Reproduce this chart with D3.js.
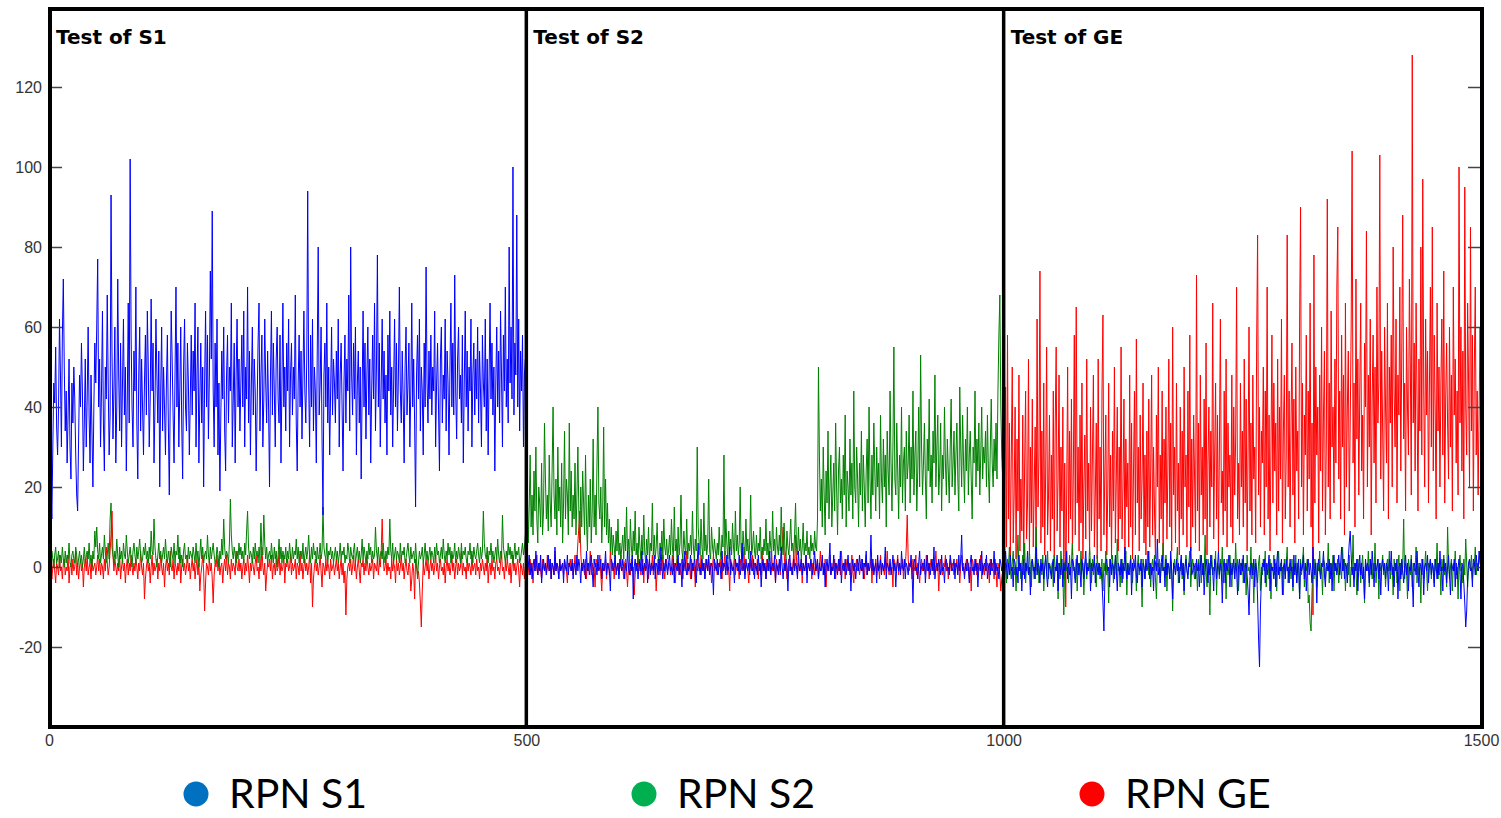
<!DOCTYPE html>
<html>
<head>
<meta charset="utf-8">
<script src="https://cdn.jsdelivr.net/npm/d3@7/dist/d3.min.js"></script>
<style>
  html, body { margin: 0; padding: 0; background: #ffffff; }
  svg { display: block; }
</style>
</head>
<body>
<svg id="chart" width="1501" height="818"></svg>
<script>
// Run index spans 0..1500; each series holds one sample per run step.
const xTicks = [0, 500, 1000, 1500];
const yTicks = [-20, 0, 20, 40, 60, 80, 100, 120];
const panelStarts = [0, 500, 1000];
const panelTitles = ["Test of S1", "Test of S2", "Test of GE"];
const legendLabels = ["RPN S1", "RPN S2", "RPN GE"];

const rpnS1 = [
  44,38,20,12,30,46,41,55,35,28,40,62,48,30,58,72,50,34,44,26,38,52,30,22,46,36,50,42,28,18,14,32,48,40,56,44,24,36,52,30,42,60,38,26,48,34,20,40,56,46,
  60,77,40,52,30,44,64,36,24,50,42,68,46,28,38,93,54,32,44,60,26,40,72,48,34,56,30,46,62,38,50,24,42,66,36,102,58,40,30,54,44,70,36,22,48,60,34,52,40,28,
  46,58,38,64,50,30,42,67,44,56,26,40,62,48,36,54,20,44,60,34,50,40,28,46,58,36,18,42,64,52,38,26,48,70,40,56,30,44,60,36,22,50,62,40,34,56,46,28,42,58,
  38,54,44,66,30,48,60,26,42,56,36,50,20,46,64,40,58,32,48,74,52,89,44,30,56,40,62,28,46,19,38,54,42,60,34,24,48,58,36,50,44,66,30,42,56,26,48,62,40,52,
  34,46,58,40,64,30,50,42,70,36,54,28,46,60,38,52,44,24,40,56,66,34,48,58,30,42,62,46,36,54,40,20,48,64,38,56,44,30,52,60,42,36,58,26,46,66,40,50,34,56,
  44,62,30,48,56,38,50,42,68,36,24,46,58,40,54,32,48,64,44,36,52,94,46,30,58,40,62,34,50,44,26,54,80,38,46,60,32,13,48,56,40,66,36,50,28,44,60,38,52,46,
  36,54,42,62,30,48,56,40,24,46,58,36,52,44,68,34,80,48,38,56,42,60,28,46,54,36,50,22,44,64,40,56,32,48,60,38,52,26,44,58,42,66,34,50,78,40,56,30,46,62,
  42,54,36,48,28,58,44,64,38,50,30,46,62,40,56,34,48,70,44,36,54,42,26,50,60,38,46,56,30,44,66,40,52,36,15,48,58,42,62,34,50,44,28,56,40,75,46,36,54,42,
  58,38,50,44,64,30,46,56,40,24,52,60,36,48,42,62,34,54,46,28,50,66,40,56,38,73,44,32,52,60,42,48,36,58,26,46,64,40,54,34,50,44,62,30,48,56,38,52,42,60,
  36,54,44,30,58,46,40,62,34,52,28,48,66,42,56,38,50,24,46,60,40,54,36,64,48,30,58,44,70,40,52,36,80,46,60,42,100,38,56,48,88,40,62,34,54,44,58,30,48,52,
  2,-1,0,3,-2,1,-3,0,2,-1,4,0,-2,1,-1,3,-4,0,2,-1,1,-2,0,3,-1,2,-3,1,0,-2,5,-1,1,0,-3,2,-1,0,1,-4,2,0,-1,3,-2,1,0,-1,2,-3,
  1,0,-2,3,-1,2,0,-4,1,-1,2,0,-3,4,-1,1,-2,0,3,-1,-5,2,0,1,-2,3,-1,0,2,-3,1,-1,0,4,-2,1,0,-1,-6,2,1,-1,0,3,-2,0,1,-3,2,0,
  -1,2,0,-3,1,-1,4,0,-2,1,-1,3,-8,0,2,-1,1,-3,0,2,-1,4,-2,0,1,-1,3,-4,0,2,-2,1,0,-1,3,-3,1,0,-2,2,-1,5,0,-3,1,-1,2,0,-2,1,
  3,-1,0,-2,2,-4,1,0,-1,3,-2,1,0,-5,2,-1,4,0,-2,1,-1,0,3,-3,1,-1,2,0,-4,1,6,-1,0,-2,2,-1,1,-3,0,2,-1,3,-2,0,1,-1,-7,2,0,-1,
  2,-2,1,0,-3,4,-1,1,0,-2,3,-1,0,5,-2,1,-1,0,-4,2,0,1,-1,3,-2,0,6,-1,1,-3,2,0,-1,1,-2,4,0,-1,2,-3,1,0,-2,3,-1,1,-5,0,2,-1,
  1,-3,0,2,-1,4,-2,0,1,-1,3,-4,1,0,-2,2,-1,5,0,-3,1,-1,2,0,-6,1,3,-1,0,-2,2,-1,1,0,-3,4,-1,0,2,-2,1,-1,0,3,-4,1,0,-1,2,0,
  -2,1,4,-1,0,2,-3,1,-1,0,3,-2,1,-5,0,2,-1,1,6,-2,0,-1,3,-3,1,0,-2,2,-1,4,-4,0,1,-1,2,-2,0,3,-1,1,-6,0,2,-1,1,-3,0,2,-1,3,
  0,-1,2,-3,1,0,4,-2,1,-1,0,8,-1,2,-2,0,1,-4,3,-1,0,2,-2,1,-1,0,5,-3,1,0,-1,2,-2,0,3,-1,1,-5,0,2,-1,1,-2,4,0,-1,2,-3,1,0,
  -2,1,0,3,-1,-9,1,2,-1,0,-3,1,4,-2,0,1,-1,2,-4,0,3,-1,1,-2,0,2,-1,5,-3,0,1,-1,2,0,-2,3,-1,0,-4,1,2,-1,0,-2,3,1,-1,0,2,-3,
  1,0,-2,3,-1,2,8,-1,0,-3,1,-1,2,0,-4,1,3,-1,0,-2,2,-1,1,-5,0,2,-1,4,-2,0,1,-1,3,-3,0,1,-2,2,-1,0,4,-2,1,-1,0,-3,2,1,-1,0,
  2,-1,4,0,-3,1,-2,3,-1,0,-5,2,1,-2,0,-4,3,-1,1,-6,0,2,-3,1,-1,4,-2,0,-7,1,2,-1,0,-3,5,-2,1,0,-4,2,-1,1,-3,0,3,-2,-5,1,0,-1,
  -3,1,2,-4,0,-1,3,-6,1,0,-2,2,-5,1,-1,0,4,-3,1,-2,0,-8,2,1,-1,-4,0,3,-2,1,-1,-5,2,0,-3,1,4,-2,0,-1,2,-6,1,-1,0,3,-4,1,0,-2,
  1,-2,0,-4,-9,-16,-3,1,2,-1,0,-5,2,-2,1,0,-3,3,-1,-6,1,0,-2,2,-4,1,-1,5,0,-3,1,-2,0,2,-7,1,-1,0,3,-2,-4,1,0,-1,2,-5,1,0,-3,2,
  -1,0,4,-3,1,-2,0,-6,2,1,-1,7,-2,0,-4,1,3,-1,0,-5,2,-2,1,0,-3,4,-1,-8,1,0,-2,2,-1,1,-4,0,3,-2,1,-6,0,2,-1,-3,1,0,5,-2,-1,1,
  0,-3,2,-1,1,-5,0,3,-2,1,-7,-1,2,0,-4,1,-2,3,0,-1,-6,2,1,-3,0,4,-2,1,-1,-9,0,2,-4,1,-1,0,3,-5,1,-2,0,2,-3,1,-1,-7,0,2,-2,1,
  -1,3,-4,0,1,-2,-6,-12,-3,1,0,-2,2,-5,1,-1,-8,-18,-25,-10,-3,1,0,2,-4,1,-2,0,3,-6,1,-1,0,-3,2,-5,1,4,-2,0,-1,2,-7,0,1,-3,2,-1,0,-4,
  2,-1,0,-5,3,-2,1,-4,0,2,-8,1,-1,0,3,-3,1,-6,0,2,-2,1,-1,-4,5,0,-2,1,-9,0,2,-1,-3,1,0,4,-2,-5,1,0,-1,2,-3,1,-6,0,3,-1,1,-2,
  0,3,-2,1,5,-1,2,-3,1,0,-4,2,6,9,3,-2,0,-5,1,-1,2,-6,0,3,-2,1,-3,0,-8,2,-1,1,0,-4,2,-2,4,0,-5,1,-1,0,2,-3,1,-7,0,2,-1,1,
  -3,1,0,-6,2,-1,4,-2,0,-5,1,-1,2,-8,0,1,-3,2,-1,-4,0,3,-2,1,-6,0,-1,2,-3,-10,1,0,-2,4,-1,-5,1,0,-2,2,-7,0,1,-1,3,-4,0,2,-2,1,
  -1,-5,2,0,-3,1,-2,4,-1,0,-6,2,-1,1,-4,0,3,-2,-7,1,0,-1,2,-5,1,-3,0,2,-1,-8,1,0,-4,-9,-15,-11,-3,1,2,-1,0,-5,2,1,-2,3,0,-1,4,1,
  0
];

const rpnS2 = [
  6,3,1,4,2,0,3,5,1,2,4,0,3,1,5,2,0,4,1,3,2,6,1,0,3,4,2,1,5,3,0,2,4,1,3,0,2,5,1,3,4,2,6,1,3,0,4,2,9,5,
  10,4,2,6,1,3,5,2,8,4,1,3,6,2,12,16,5,3,1,4,2,7,3,0,5,2,4,1,6,3,2,8,4,1,3,5,2,0,4,6,3,1,5,2,4,7,3,1,2,5,
  3,6,2,4,1,5,2,9,4,3,12,5,2,0,3,6,2,4,1,3,5,2,7,3,1,4,2,0,5,3,2,6,1,4,3,8,2,5,1,3,0,4,6,2,3,1,5,2,4,3,
  2,5,3,1,6,2,4,0,3,7,2,5,1,3,4,2,8,3,1,5,2,4,6,3,1,2,5,3,0,4,2,7,3,12,5,2,4,3,1,6,17,8,4,2,5,3,1,4,2,6,
  3,5,2,4,1,6,3,9,14,5,2,4,3,1,5,2,6,3,4,1,5,2,11,4,3,13,6,2,5,1,3,4,2,6,3,1,5,2,4,0,3,7,2,5,1,4,3,2,5,1,
  4,2,6,3,1,5,2,4,3,7,2,5,1,3,4,2,6,1,3,5,2,4,8,3,1,5,2,6,3,4,1,5,2,3,6,2,4,15,5,3,2,6,1,4,3,5,2,4,1,3,
  5,2,4,1,3,6,2,4,3,5,1,3,2,6,4,1,5,3,2,4,6,1,3,5,2,4,1,3,7,2,5,3,1,4,2,6,3,5,1,4,2,3,10,4,2,5,1,3,4,2,
  6,3,1,4,2,5,3,12,4,2,6,1,3,5,2,4,3,1,6,2,4,3,5,1,2,4,6,3,1,5,2,3,4,1,6,2,-3,1,4,2,3,5,1,3,6,2,4,1,3,5,
  2,4,3,1,5,2,6,3,4,1,3,5,2,7,3,1,4,2,6,3,5,1,4,2,3,6,1,4,2,5,3,1,6,2,4,3,5,2,1,4,3,6,2,4,1,5,3,2,4,6,
  3,1,5,2,4,14,6,3,2,5,1,4,3,6,2,4,1,3,5,2,7,3,1,4,2,13,5,3,1,4,2,6,3,5,2,4,1,3,6,2,4,3,5,1,2,4,6,3,5,8,
  12,20,6,15,28,10,18,8,24,14,30,12,6,20,16,10,26,8,14,36,22,12,18,9,28,16,10,24,40,18,12,22,8,30,14,20,10,26,6,16,34,12,22,18,8,36,14,24,10,18,
  12,26,8,18,30,14,6,20,10,24,16,8,28,12,4,18,10,22,6,14,32,10,18,8,26,40,16,12,20,6,14,35,10,22,8,16,6,12,4,10,3,8,5,2,9,4,12,3,6,2,
  5,8,2,10,4,15,3,7,1,12,5,2,9,4,14,3,6,1,10,5,2,8,3,13,4,1,7,3,10,2,6,4,16,3,8,2,5,11,3,1,6,4,9,2,12,5,3,7,2,4,
  8,3,12,5,2,15,4,7,1,10,3,6,18,4,2,9,5,3,12,2,6,4,8,3,14,5,2,7,4,30,10,6,3,12,5,2,16,4,8,3,6,22,4,2,10,5,3,7,4,2,
  6,3,10,4,2,8,5,28,3,12,6,2,9,4,7,3,11,5,2,14,4,8,3,6,20,4,2,9,5,3,12,4,7,2,6,18,3,5,9,4,2,8,3,6,4,10,2,5,3,7,
  4,12,3,6,2,9,5,3,14,4,7,2,10,5,3,8,4,15,6,3,11,4,2,9,5,3,7,12,4,6,3,8,16,5,3,10,4,7,2,5,11,3,6,4,9,3,5,2,8,4,
  6,3,9,5,4,12,50,28,14,22,10,30,18,8,24,16,34,12,20,28,10,18,26,14,36,20,8,24,30,16,22,12,28,18,38,10,24,20,14,32,18,26,12,44,20,16,30,22,10,26,
  18,34,14,28,20,10,24,32,16,40,22,12,28,18,36,24,14,30,20,26,12,38,22,16,32,20,28,10,34,24,18,44,26,14,30,55,22,18,36,24,12,28,20,40,16,26,30,14,34,22,
  26,38,16,30,22,44,18,28,34,14,24,40,20,53,30,18,26,36,22,12,32,24,42,20,28,16,34,26,48,20,30,38,18,24,36,14,28,22,40,26,18,32,24,16,30,42,20,26,34,18,
  28,36,22,14,45,30,20,38,26,16,32,24,40,18,28,34,22,12,30,26,44,20,32,24,36,18,28,40,22,30,26,34,20,38,24,16,30,42,26,20,32,24,36,22,44,58,68,40,28,22,
  3,-2,1,-4,2,0,5,-1,-3,1,4,-2,0,-6,2,8,-1,1,-3,0,3,-2,6,-4,1,0,-2,4,-1,-5,2,0,-3,1,10,-1,2,-4,0,1,-2,3,-6,0,2,-1,4,-3,1,0,
  -2,1,-5,3,0,-1,2,-8,1,-3,4,0,-2,-12,1,2,-1,0,-4,3,-2,1,6,-1,0,-3,2,-6,1,0,-2,4,-1,1,-7,0,2,-3,1,-1,5,0,-4,2,-2,1,0,-5,3,-1,
  1,-3,0,2,-6,1,-1,4,-2,0,-9,2,1,-1,3,-4,0,2,-2,7,-1,0,-5,1,2,-3,0,-1,4,-7,1,0,-2,3,-1,-4,2,0,1,-6,0,3,-2,1,-1,-10,2,0,-3,1,
  0,4,-2,1,-5,0,2,-1,3,-3,-8,1,0,2,-4,1,-1,6,0,-2,3,-6,1,0,-3,2,-1,-11,0,2,-2,1,5,-4,0,-1,2,-3,1,-7,0,3,-1,-2,1,4,-5,0,2,-1,
  -3,1,0,-6,2,-1,3,-4,0,1,-2,8,-1,-5,2,0,-12,1,3,-2,0,-1,4,-7,1,0,-3,2,-1,5,-4,0,1,-8,2,-2,0,3,-1,-5,1,0,-3,6,-1,2,-6,0,1,-2,
  2,-4,0,1,-7,3,-1,0,-2,5,-3,1,-9,0,2,-1,-4,1,3,-6,0,-2,2,-1,4,-5,0,1,-3,2,-8,0,-1,3,-2,1,-6,0,4,-3,1,-1,0,-7,2,-2,1,5,-4,0,
  1,-3,2,-6,0,-1,3,-4,1,0,-8,2,-2,1,5,-5,0,-1,2,-9,-7,-14,-16,-6,1,-3,2,0,-5,1,-1,4,-2,0,-7,2,1,-3,0,-1,6,-4,1,0,-2,3,-6,1,-1,0,
  2,-4,1,0,-3,5,-1,2,-6,0,1,-2,3,-5,0,-1,8,-3,1,0,-7,2,-1,1,-4,0,3,-2,-9,1,0,-1,4,-5,2,0,-3,1,-1,6,-4,0,2,-8,1,-1,0,3,-2,1,
  -5,0,2,-1,4,-3,1,0,-7,2,-1,1,-4,0,3,-6,1,-2,0,12,-3,1,-1,-8,2,0,-2,3,-5,1,-1,0,5,-4,1,-2,0,-9,2,1,-3,0,4,-1,-6,1,0,2,-3,1,
  0,-4,2,-1,6,-3,1,0,-7,2,-1,3,-2,0,-5,10,1,-3,0,2,-6,1,-1,4,-2,0,-8,1,3,-1,0,-4,2,-2,7,1,-5,0,2,-1,3,-3,1,0,5,-2,1,-1,2,4,
  3
];

const rpnGE = [
  -5,-2,1,-3,0,2,-1,-4,1,0,-2,3,-1,0,-3,1,2,-2,0,-1,3,-4,0,1,-2,2,-1,0,4,-2,1,-3,0,2,-1,1,-5,0,2,-1,3,-2,0,1,-3,2,-1,0,1,-2,
  0,3,-1,2,-2,1,0,-3,2,-1,5,1,-2,0,4,8,14,3,-1,2,0,-2,1,-1,3,-3,0,2,-1,1,-4,0,2,-2,1,-1,3,0,-2,1,-1,2,0,-3,1,-1,4,0,-2,1,
  -8,-3,0,2,-1,1,-4,0,3,-2,1,-1,0,2,-3,1,-1,3,0,-2,1,-5,0,2,-1,1,-2,4,0,-1,2,-3,1,0,-2,1,-1,3,-4,0,2,-1,1,-2,0,3,-1,1,-3,0,
  2,-1,1,-3,0,2,-2,1,-6,-2,0,3,-1,-11,-4,1,0,-2,2,-1,1,-3,-9,-2,1,0,3,-1,2,-2,0,1,-4,0,2,-1,3,-2,1,0,-3,2,-1,1,0,-2,4,0,-1,2,
  -1,1,-3,0,2,-2,1,-1,3,0,-4,1,-1,2,0,-2,1,3,-1,0,-3,2,-1,5,0,-2,1,-6,-2,1,0,2,-1,3,-3,0,1,-2,2,-1,0,4,-2,1,-1,0,3,-4,1,0,
  2,-1,0,3,-2,1,-1,0,2,-3,1,0,-2,4,-1,1,-3,0,2,-1,1,-2,0,3,-4,1,-10,-3,0,2,-1,1,-2,0,3,-1,-5,1,0,-2,2,-1,1,0,-3,2,-1,0,1,-2,
  0,2,-1,1,-3,0,2,-2,1,-4,-1,-12,-3,0,1,-1,2,-2,0,3,-1,1,-3,0,2,-1,-4,1,0,2,-2,1,-1,3,0,-2,1,-1,0,2,-3,1,0,-1,2,-2,1,0,4,12,
  3,-1,0,2,-2,1,-1,0,-3,2,-1,1,0,-4,2,-1,1,-2,0,3,-1,1,-3,0,2,-1,-2,1,0,-6,-3,1,-1,-8,2,0,-2,-1,-4,-9,-15,-6,1,-2,0,2,-1,1,-3,0,
  2,-1,1,-2,0,3,-1,1,-3,0,2,-1,0,-2,1,-4,0,2,-1,1,-2,0,3,-1,1,-3,0,2,-2,1,-1,0,4,-2,1,-1,0,-3,2,-1,1,0,-2,3,-1,0,1,-2,2,-1,
  0,-3,1,-1,2,0,-2,1,-1,3,-4,0,1,-2,2,-1,0,-3,1,2,-1,0,-2,1,4,-1,0,-3,1,-1,2,0,-2,1,-4,0,3,-1,1,-2,0,2,-1,-5,1,0,-2,1,-3,0,
  -3,1,0,-2,2,-1,1,-4,0,2,-1,3,-2,0,1,-1,-3,2,0,-1,1,-2,3,0,-1,2,-3,1,0,-2,4,-1,1,0,-3,2,-1,0,1,-2,2,0,-1,-4,1,0,2,-1,1,-2,
  0,3,-1,2,6,10,14,4,-1,1,0,-2,2,-3,1,-1,0,4,-2,1,-1,0,-5,2,1,-1,0,3,-2,-6,0,1,-1,2,-3,0,1,-2,4,0,-1,1,-3,2,0,-1,1,-2,0,3,
  -1,0,-3,1,2,-1,-5,0,1,-2,2,-1,0,-7,-2,1,0,3,-1,1,-2,0,2,-4,1,-1,0,2,-3,1,0,-1,3,-2,0,1,-6,-1,2,0,-2,1,-1,3,0,-3,1,2,-1,0,
  1,-2,0,3,-1,1,-4,0,2,-1,1,-2,0,2,-3,1,0,-1,4,-2,1,0,-3,2,-1,1,0,-5,2,-1,0,1,-2,3,0,-1,1,-3,2,0,-1,2,-2,1,-4,0,3,-1,1,0,
  -2,1,0,2,-1,-3,1,0,4,-1,1,-2,0,-6,2,1,-1,0,3,-2,1,-1,0,-3,2,0,-1,1,5,-2,0,1,-1,-4,2,0,-1,3,-2,1,0,-1,2,-3,1,0,-2,4,-1,1,
  0,-3,2,-1,1,0,-2,3,-1,1,0,-4,2,-1,0,1,-2,3,6,10,4,-1,1,-3,0,2,-1,1,-2,0,3,-1,8,2,-2,1,0,-1,2,-4,1,0,-1,3,-2,0,1,-1,2,-3,
  1,0,-2,2,-1,1,-3,0,4,-1,1,0,-2,2,-5,1,0,-1,3,-2,1,-1,0,2,-3,1,0,-1,2,-2,4,0,-1,1,-3,0,2,-1,1,-2,0,3,-1,-4,1,0,2,-1,1,-2,
  0,2,-1,1,-3,0,3,-2,1,-1,0,2,-4,1,0,-1,2,-2,1,0,-3,3,-1,1,0,-2,2,-1,4,0,-2,1,-1,0,-5,2,1,-1,0,3,-2,1,-1,0,2,-3,1,0,5,13,
  2,-1,0,1,-3,2,-1,0,3,-2,1,-1,-4,0,2,-1,1,0,-2,3,-1,1,-3,0,2,-1,1,-2,0,4,-1,1,-6,0,2,-1,-2,1,0,3,-1,1,-3,0,2,-1,1,0,-2,1,
  0,2,-1,1,-4,0,3,-1,1,-2,0,2,-1,1,-3,0,-6,2,1,-1,0,2,-2,1,-1,0,3,-3,1,0,-2,2,-1,1,0,-4,2,-1,1,0,-3,2,-1,-5,1,0,-2,-6,-3,-1,
  8,24,45,5,58,12,36,3,28,50,6,18,40,2,32,14,48,4,22,9,38,1,26,44,7,16,52,3,30,11,42,5,20,35,2,62,15,28,74,6,34,10,46,3,24,55,8,18,38,4,
  28,12,44,2,36,55,9,22,48,5,30,14,40,-3,26,-10,18,50,6,34,12,42,3,24,58,8,65,16,30,4,38,11,46,2,20,33,7,52,14,26,3,40,9,28,48,5,18,36,2,52,
  12,30,4,44,63,8,24,38,3,18,46,10,28,2,34,14,50,6,22,40,4,30,12,55,7,20,42,3,32,15,26,5,48,10,36,2,24,44,8,57,16,30,4,38,12,22,46,6,28,3,
  34,10,42,5,24,48,8,30,14,2,38,20,50,6,28,12,44,3,32,16,40,7,24,52,10,36,4,60,18,30,6,46,14,26,3,40,12,34,8,50,20,28,5,44,15,58,4,32,10,38,
  22,6,73,14,36,4,48,18,30,8,42,12,56,3,26,40,10,34,20,66,7,28,46,12,38,4,30,62,16,24,8,44,14,52,5,36,20,28,10,48,6,40,18,32,70,12,26,8,46,20,
  34,10,52,16,42,4,28,60,14,36,8,48,22,30,6,56,83,18,40,10,34,26,50,8,44,20,70,12,38,4,30,58,16,46,24,36,8,52,14,40,22,62,6,34,48,12,28,83,20,44,
  10,36,56,18,42,6,50,24,34,12,62,90,20,46,8,38,28,58,14,44,22,66,10,36,-12,78,16,50,28,40,6,48,24,60,14,38,54,8,32,92,20,46,12,64,30,40,16,52,26,70,
  85,22,44,12,58,30,48,8,66,20,40,54,14,36,60,104,26,46,10,72,32,52,18,44,66,24,38,12,56,40,84,20,48,30,62,8,42,58,26,50,16,70,36,46,103,22,54,34,14,60,
  40,26,66,12,50,36,58,20,80,44,30,62,16,48,38,70,24,54,88,32,46,14,60,40,28,72,50,18,128,36,56,24,66,42,14,52,34,80,28,97,44,20,62,38,54,16,46,70,30,85,
  24,58,40,12,66,34,50,20,46,62,28,74,16,42,56,36,22,60,30,48,14,70,38,52,26,44,18,100,36,60,24,54,12,95,40,28,66,46,20,85,34,58,14,50,70,28,44,18,38,60,
  30
];

const seriesColors = ["#0000ff", "#008000", "#ff0000"];
const legendColors = ["#0070c0", "#00b050", "#ff0000"];

const svg = d3.select("#chart");

const frame = { left: 50, right: 1482, top: 9, bottom: 727 };

const x = d3.scaleLinear().domain([0, 1500]).range([49, 1481]);
const y = d3.scaleLinear().domain([-40, 140]).range([727, 7]);

svg.append("rect")
  .attr("width", 1501).attr("height", 818).attr("fill", "#ffffff");

svg.append("defs").append("clipPath").attr("id", "plot-clip")
  .append("rect")
  .attr("x", frame.left + 2).attr("y", frame.top + 2)
  .attr("width", frame.right - frame.left - 4)
  .attr("height", frame.bottom - frame.top - 4);

// Series traces: red underneath, then green, then blue
const traces = [
  { values: rpnGE, color: seriesColors[2] },
  { values: rpnS2, color: seriesColors[1] },
  { values: rpnS1, color: seriesColors[0] }
];

const plot = svg.append("g").attr("clip-path", "url(#plot-clip)");
traces.forEach(t => {
  const n = t.values.length;
  const line = d3.line()
    .x((d, i) => x(i * 1500 / (n - 1)))
    .y(d => y(d));
  plot.append("path")
    .datum(t.values)
    .attr("fill", "none")
    .attr("stroke", t.color)
    .attr("stroke-width", 1)
    .attr("stroke-linejoin", "miter")
    .attr("d", line);
});

// Left axis: ticks point into the plot, labels outside
const yAxisLeft = d3.axisLeft(y)
  .tickValues(yTicks)
  .tickSizeInner(-12)
  .tickSizeOuter(0)
  .tickPadding(8)
  .tickFormat(d => String(d));

const gLeft = svg.append("g")
  .attr("transform", `translate(${frame.left},0)`)
  .call(yAxisLeft);
gLeft.select(".domain").remove();
gLeft.selectAll(".tick line").attr("stroke", "#444").attr("stroke-width", 1.5);
gLeft.selectAll(".tick text")
  .attr("fill", "#333")
  .style("font-family", "'Liberation Sans', Arial, sans-serif")
  .style("font-size", "16px");

// Right axis: tick marks only
const yAxisRight = d3.axisRight(y)
  .tickValues(yTicks)
  .tickSizeInner(-14)
  .tickSizeOuter(0)
  .tickFormat("");
const gRight = svg.append("g")
  .attr("transform", `translate(${frame.right},0)`)
  .call(yAxisRight);
gRight.select(".domain").remove();
gRight.selectAll(".tick line").attr("stroke", "#444").attr("stroke-width", 1.5);

// Bottom axis: labels only
const xAxis = d3.axisBottom(x)
  .tickValues(xTicks)
  .tickSize(0)
  .tickPadding(8)
  .tickFormat(d => String(d));
const gBottom = svg.append("g")
  .attr("transform", `translate(0,${frame.bottom})`)
  .call(xAxis);
gBottom.select(".domain").remove();
gBottom.selectAll(".tick text")
  .attr("fill", "#333")
  .style("font-family", "'Liberation Sans', Arial, sans-serif")
  .style("font-size", "16px");

// Panel dividers
svg.selectAll("line.divider")
  .data(panelStarts.slice(1))
  .join("line")
  .attr("class", "divider")
  .attr("x1", d => x(d)).attr("x2", d => x(d))
  .attr("y1", frame.top).attr("y2", frame.bottom)
  .attr("stroke", "#000").attr("stroke-width", 3.5);

// Frame
svg.append("rect")
  .attr("x", frame.left).attr("y", frame.top)
  .attr("width", frame.right - frame.left)
  .attr("height", frame.bottom - frame.top)
  .attr("fill", "none")
  .attr("stroke", "#000")
  .attr("stroke-width", 4);

// Panel titles
svg.selectAll("text.panel-title")
  .data(panelTitles)
  .join("text")
  .attr("class", "panel-title")
  .attr("x", (d, i) => x(panelStarts[i]) + 7)
  .attr("y", 44)
  .attr("fill", "#000")
  .style("font-family", "'DejaVu Sans', Verdana, sans-serif")
  .style("font-weight", "bold")
  .style("font-size", "20px")
  .text(d => d);

// Legend
const legend = svg.selectAll("g.legend-item")
  .data(legendLabels)
  .join("g")
  .attr("class", "legend-item")
  .attr("transform", (d, i) => `translate(${196 + i * 448},0)`);

legend.append("circle")
  .attr("cx", 0).attr("cy", 794).attr("r", 12.5)
  .attr("fill", (d, i) => legendColors[i]);

legend.append("text")
  .attr("x", 33).attr("y", 808)
  .attr("fill", "#000")
  .style("font-family", "Lato, 'Open Sans', sans-serif")
  .style("font-size", "41px")
  .text(d => d);
</script>
</body>
</html>
